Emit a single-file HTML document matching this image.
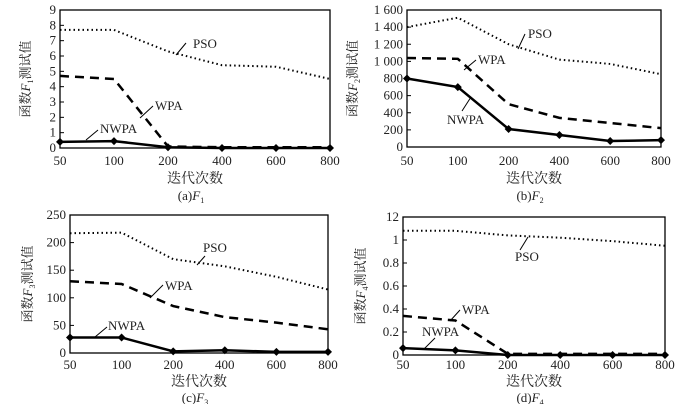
<!DOCTYPE html>
<html><head><meta charset="utf-8"><style>
body{margin:0;background:#fff;width:700px;height:404px;overflow:hidden}
svg text{font-family:"Liberation Serif","Noto Serif CJK SC",serif;fill:#222}
</style></head><body>
<svg id="s" width="700" height="404"></svg>
<script>
const categories=["50","100","200","400","600","800"];
const psoA=[7.7,7.7,6.3,5.4,5.3,4.5], wpaA=[4.7,4.5,0.1,0.05,0.05,0.05], nwpaA=[0.4,0.45,0.05,0,0,0];
const psoB=[1400,1510,1200,1020,970,850], wpaB=[1040,1030,500,340,280,220], nwpaB=[800,700,210,140,70,80];
const psoC=[217,218,170,157,138,115], wpaC=[130,125,85,65,55,43], nwpaC=[28,28,3,5,2,2];
const psoD=[1.08,1.08,1.04,1.02,0.99,0.95], wpaD=[0.34,0.30,0.01,0.01,0.01,0.01], nwpaD=[0.06,0.04,0,0,0,0];
const ticksA=["0","1","2","3","4","5","6","7","8","9"];
const ticksB=["0","200","400","600","800","1 000","1 200","1 400","1 600"];
const ticksC=["0","50","100","150","200","250"];
const ticksD=["0","0.2","0.4","0.6","0.8","1","12"];
const NS="http://www.w3.org/2000/svg", svg=document.getElementById('s');
function mk(t,a,p,txt){const e=document.createElementNS(NS,t);for(const k in a)e.setAttribute(k,a[k]);if(txt!==undefined)e.textContent=txt;(p||svg).appendChild(e);return e;}
const panels=[
 {id:'a',L:60,R:330,T:10,B:148,max:9,ticks:ticksA,pso:psoA,wpa:wpaA,nwpa:nwpaA,sub:'1',cap:'(a)',xl:165,tl:183,cl:200,yo:30,
  lab:[['PSO',193,48,186,43,176,55],['WPA',155,110,153,106,140,118],['NWPA',100,133,98,130,86,140]]},
 {id:'b',L:407,R:661,T:10,B:147,max:1600,ticks:ticksB,pso:psoB,wpa:wpaB,nwpa:nwpaB,sub:'2',cap:'(b)',xl:165,tl:183,cl:200,yo:50,
  lab:[['PSO',528,38,525,34,518,49],['WPA',478,64,476,60,464,70],['NWPA',447,124,462,111,471,97]]},
 {id:'c',L:70,R:328,T:215,B:353,max:250,ticks:ticksC,pso:psoC,wpa:wpaC,nwpa:nwpaC,sub:'3',cap:'(c)',xl:369,tl:386,cl:402,yo:38,
  lab:[['PSO',203,252,205,256,197,265],['WPA',165,290,163,285,150,298],['NWPA',108,330,107,327,95,337]]},
 {id:'d',L:403,R:665,T:217,B:355,max:1.2,ticks:ticksD,pso:psoD,wpa:wpaD,nwpa:nwpaD,sub:'4',cap:'(d)',xl:369,tl:386,cl:402,yo:38,
  lab:[['PSO',515,261,520,250,528,237],['WPA',462,314,460,310,450,321],['NWPA',422,336,435,338,424,349]]}
];
panels.forEach(p=>{
 const g=mk('g',{});
 const xs=i=>p.L+(p.R-p.L)*i/(categories.length-1);
 const ys=v=>p.B-(p.B-p.T)*v/p.max;
 const step=p.max/(p.ticks.length-1);
 p.ticks.forEach((t,i)=>{const y=ys(i*step);
  const tk=mk('line',{x1:p.L,x2:p.L+4,y1:y,y2:y,stroke:'#000','stroke-width':1},g);
  
  const tx=mk('text',{x:p.L-4,y:y+4,'text-anchor':'end','font-size':13},g,t);
  });
 categories.forEach((c,i)=>{const tx=mk('text',{x:xs(i),y:p.xl,'text-anchor':'middle','font-size':13},g,c);
  });
 const fr=mk('rect',{x:p.L,y:p.T,width:p.R-p.L,height:p.B-p.T,fill:'none',stroke:'#000','stroke-width':1.3},g);
 
 const pts=a=>a.map((v,i)=>xs(i)+','+ys(v)).join(' ');
 const l1=mk('polyline',{points:pts(p.pso),fill:'none',stroke:'#000','stroke-width':2,'stroke-dasharray':'1.5 3'},g);
 
 const l2=mk('polyline',{points:pts(p.wpa),fill:'none',stroke:'#000','stroke-width':2.5,'stroke-dasharray':'9 6'},g);
 
 const l3=mk('polyline',{points:pts(p.nwpa),fill:'none',stroke:'#000','stroke-width':2.5},g);
 
 p.nwpa.forEach((v,i)=>{const x=xs(i),y=ys(v);
  const m=mk('polygon',{points:`${x},${y-4} ${x+4},${y} ${x},${y+4} ${x-4},${y}`,fill:'#000'},g);
  });
 p.lab.forEach(l=>{const tx=mk('text',{x:l[1],y:l[2],'font-size':13},g,l[0]);
  
  const ln=mk('line',{x1:l[3],y1:l[4],x2:l[5],y2:l[6],stroke:'#000','stroke-width':1},g);
  });
 const cx=(p.L+p.R)/2;
 const xt=mk('text',{x:cx,y:p.tl,'text-anchor':'middle','font-size':14},g,'迭代次数');
 
 const cp=mk('text',{x:cx-4,y:p.cl,'text-anchor':'middle','font-size':13},g);
 
 mk('tspan',{},cp,p.cap);mk('tspan',{'font-style':'italic'},cp,'F');mk('tspan',{'font-size':8,dy:3},cp,p.sub);
 const ym=(p.T+p.B)/2, yx=p.L-p.yo;
 const yt=mk('text',{x:yx,y:ym,'text-anchor':'middle','font-size':13,transform:`rotate(-90 ${yx} ${ym})`},g);
 
 mk('tspan',{},yt,'函数');mk('tspan',{'font-style':'italic'},yt,'F');mk('tspan',{'font-size':8,dy:3},yt,p.sub);mk('tspan',{dy:-3},yt,'测试值');
});
</script>
</body></html>
